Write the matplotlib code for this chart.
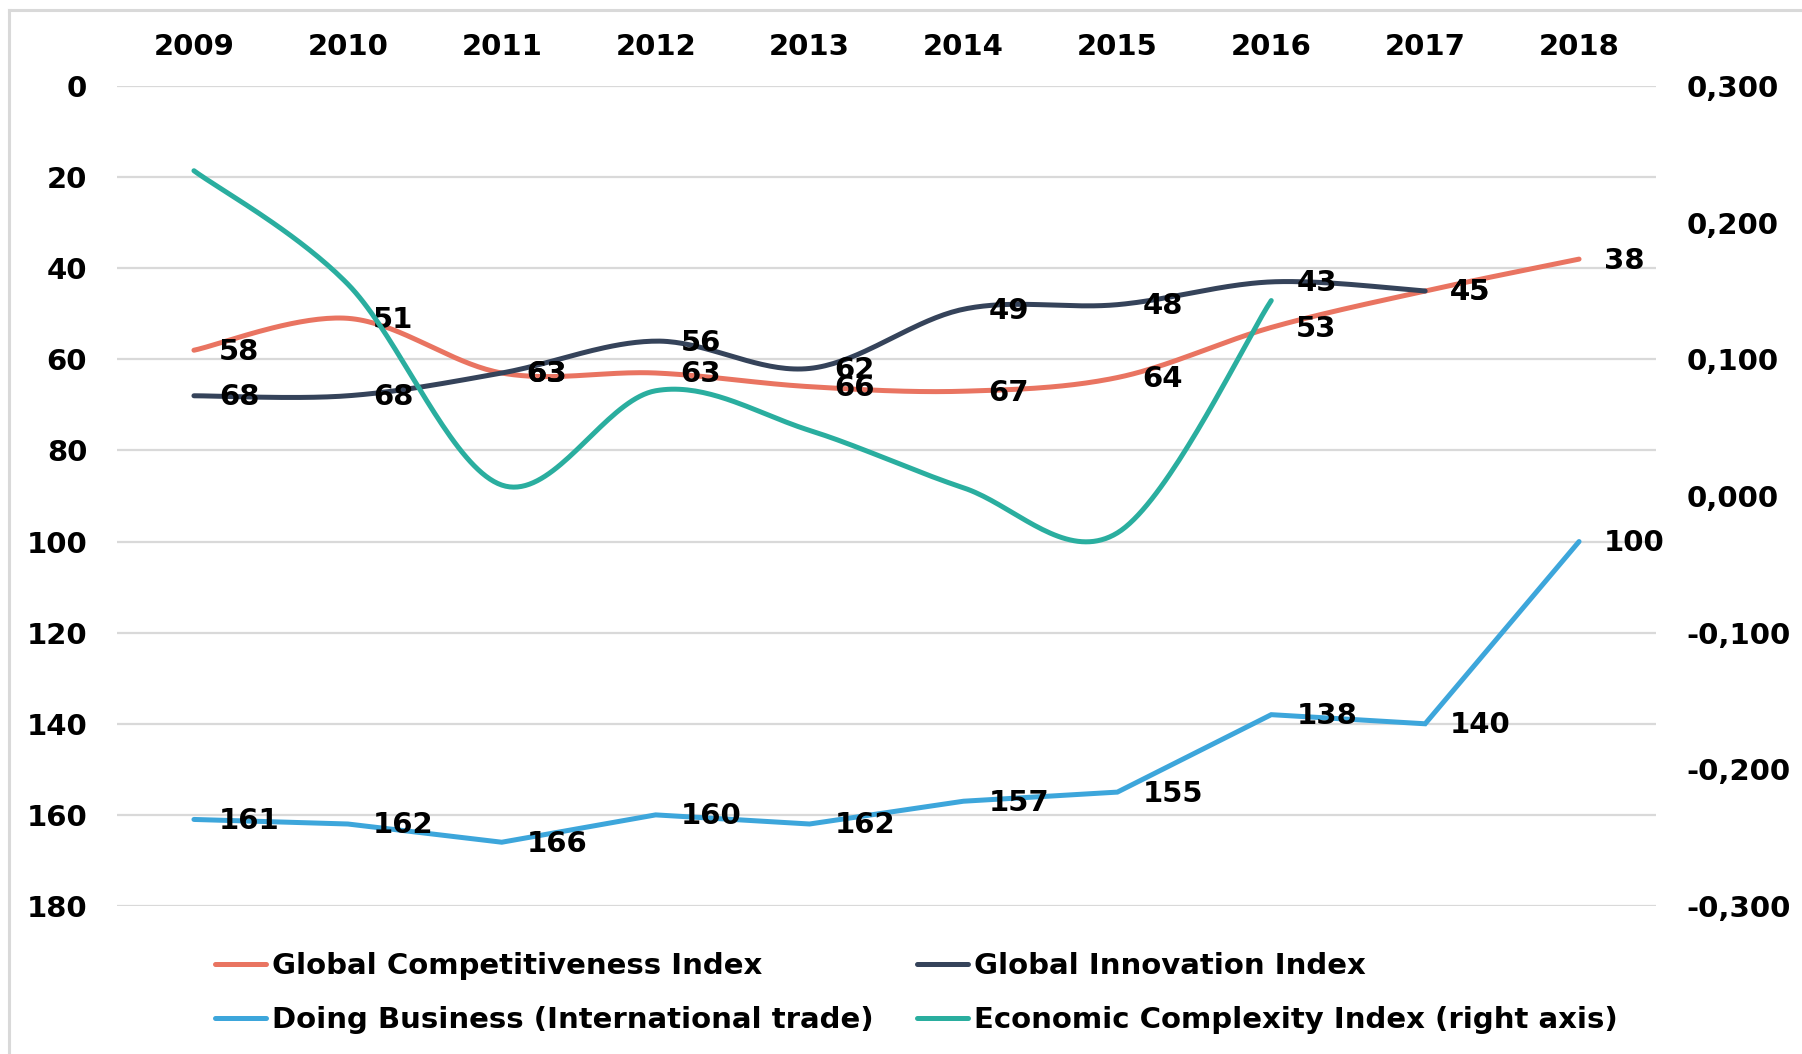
"""
Rankings of the country in four international indices, 2009-2018.
Left axis is a rank (inverted), right axis is the Economic Complexity Index.
"""

import numpy as np
import matplotlib
matplotlib.use("Agg")
import matplotlib.pyplot as plt
from matplotlib.lines import Line2D

YEARS = ["2009", "2010", "2011", "2012", "2013", "2014", "2015", "2016", "2017", "2018"]

GCI = [58, 51, 63, 63, 66, 67, 64, 53, 45, 38]          # Global Competitiveness Index
GII = [68, 68, 63, 56, 62, 49, 48, 43, 45]              # Global Innovation Index (to 2017)
DB = [161, 162, 166, 160, 162, 157, 155, 138, 140, 100] # Doing Business (International trade)
ECI = [0.238, 0.155, 0.008, 0.077, 0.048, 0.006, -0.027, 0.143]  # right axis, to 2016

RANK_TICKS = [0, 20, 40, 60, 80, 100, 120, 140, 160, 180]
ECI_TICKS = [0.3, 0.2, 0.1, 0.0, -0.1, -0.2, -0.3]
ECI_LABELS = ["0,300", "0,200", "0,100", "0,000", "-0,100", "-0,200", "-0,300"]

C_GCI = "#E97461"
C_GII = "#35435A"
C_DB = "#3DA6DB"
C_ECI = "#2AAE9F"
GRID = "#D9D9D9"

plt.rcParams["font.family"] = ["DejaVu Sans"]
plt.rcParams["font.weight"] = "bold"
FS = 21


def smooth(y, n=40):
    """Excel-like smoothed line: Catmull-Rom segments drawn as cubic Beziers."""
    pts = np.column_stack([np.arange(len(y)), np.asarray(y, float)])
    out = []
    t = np.linspace(0, 1, n)[:, None]
    for i in range(len(pts) - 1):
        p0 = pts[i - 1] if i > 0 else pts[i]
        p1, p2 = pts[i], pts[i + 1]
        p3 = pts[i + 2] if i + 2 < len(pts) else pts[i + 1]
        c1 = p1 + (p2 - p0) / 6
        c2 = p2 - (p3 - p1) / 6
        seg = ((1 - t) ** 3) * p1 + 3 * ((1 - t) ** 2) * t * c1 \
            + 3 * (1 - t) * t ** 2 * c2 + t ** 3 * p2
        out.append(seg if i == 0 else seg[1:])
    out = np.vstack(out)
    return out[:, 0], out[:, 1]


fig = plt.figure(figsize=(18.02, 10.54), dpi=100)
ax = fig.add_axes([117 / 1802, 1 - 906 / 1054, (1656 - 117) / 1802, (906 - 86) / 1054])
ax2 = ax.twinx()

lw = 3.6
x = np.arange(len(YEARS))

l_gci, = ax.plot(*smooth(GCI), color=C_GCI, lw=lw, solid_capstyle="round",
                 label="Global Competitiveness Index")
l_gii, = ax.plot(*smooth(GII), color=C_GII, lw=lw, solid_capstyle="round",
                 label="Global Innovation Index")
l_db, = ax.plot(x, DB, color=C_DB, lw=lw, solid_capstyle="round",
                solid_joinstyle="miter", label="Doing Business (International trade)")
l_eci, = ax2.plot(*smooth(ECI), color=C_ECI, lw=lw, solid_capstyle="round",
                  label="Economic Complexity Index (right axis)")

# data labels to the right of each point
for series in (GCI, GII, DB):
    for xi, v in enumerate(series):
        ax.annotate(str(v), (xi, v), xytext=(18, -1), textcoords="offset points",
                    ha="left", va="center", fontsize=FS, fontweight="bold",
                    color="black", zorder=5)

ax.set_xlim(-0.5, len(YEARS) - 0.5)
ax.set_ylim(180, 0)
ax.set_yticks(RANK_TICKS)
ax.set_xticks(x)
ax.set_xticklabels(YEARS)
ax.xaxis.tick_top()
ax.tick_params(axis="x", length=0, pad=18, labelsize=FS)
ax.tick_params(axis="y", length=0, pad=21.5, labelsize=FS)
ax.grid(axis="y", color=GRID, lw=1.6)
ax.set_axisbelow(True)

ax2.set_ylim(-0.3, 0.3)
ax2.set_yticks(ECI_TICKS)
ax2.set_yticklabels(ECI_LABELS)
ax2.tick_params(axis="y", length=0, pad=22, labelsize=FS)

for a in (ax, ax2):
    for s in a.spines.values():
        s.set_visible(False)

fig.legend(handles=[l_gci, l_db, l_gii, l_eci], ncol=2, loc="upper left",
           bbox_to_anchor=(215 / 1802, 1 - 952 / 1054), frameon=False,
           fontsize=FS, handlelength=1.75, handletextpad=0.2,
           columnspacing=1.5, labelspacing=0.9, borderpad=0, borderaxespad=0)

# light frame on the left and top, as in the original screenshot
fig.add_artist(Line2D([9 / 1802, 9 / 1802], [0, 1 - 10 / 1054], color=GRID, lw=2.2))
fig.add_artist(Line2D([9 / 1802, 1], [1 - 10 / 1054, 1 - 10 / 1054], color=GRID, lw=2.2))

fig.savefig("out.png", dpi=100)
